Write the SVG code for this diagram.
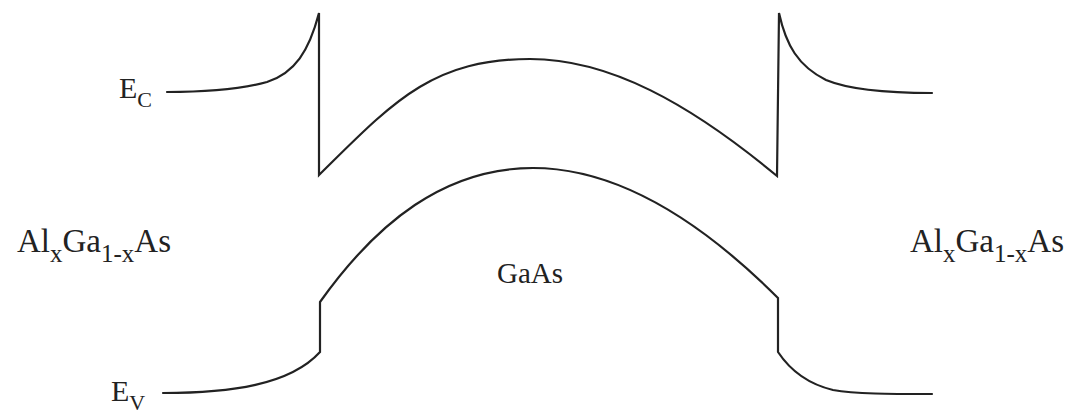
<svg xmlns="http://www.w3.org/2000/svg" width="1083" height="415" viewBox="0 0 1083 415">
<style>
.band{fill:none;stroke:#222;stroke-width:2.2;stroke-linejoin:miter;stroke-linecap:round}
text{fill:#222}
</style>
<rect width="1083" height="415" fill="#fff"/>
<g id="connectors">
<path id="conduction-band" class="band" d="M167,92 C210,92 245,88 267,82 C295,72.8 309,51 319,13 L319,175 C392,103 431,59 530,59 C609,59 689,103 777,176 L779,13 C786,45 798,66 826,80 C850,90 885,93 932,93"/>
<path id="valence-band" class="band" d="M163,393 C230,393 290,385 320,352 L320,302 C377,222 445,168 533,168 C620,168 703,223 778,298 L778,352 C790,370 808,384 833,390 C855,394 890,394 932,394"/>
</g>
<g id="label-ec"><text font-family="'Liberation Serif', 'DejaVu Serif', serif" x="119" y="98" font-size="30">E<tspan font-size="22" dy="9">C</tspan></text></g>
<g id="label-ev"><text font-family="'Liberation Serif', 'DejaVu Serif', serif" x="111" y="401" font-size="30">E<tspan font-size="22" dy="9">V</tspan></text></g>
<g id="label-left"><text font-family="'Liberation Serif', 'DejaVu Serif', serif" x="17" y="252" font-size="33">Al<tspan font-size="25" dy="10">x</tspan><tspan dy="-10">Ga</tspan><tspan font-size="25" dy="10">1-x</tspan><tspan dy="-10">As</tspan></text></g>
<g id="label-right"><text font-family="'Liberation Serif', 'DejaVu Serif', serif" x="910" y="252" font-size="33">Al<tspan font-size="25" dy="10">x</tspan><tspan dy="-10">Ga</tspan><tspan font-size="25" dy="10">1-x</tspan><tspan dy="-10">As</tspan></text></g>
<g id="label-gaas"><text font-family="'Liberation Serif', 'DejaVu Serif', serif" x="497" y="283" font-size="29">GaAs</text></g>
</svg>
